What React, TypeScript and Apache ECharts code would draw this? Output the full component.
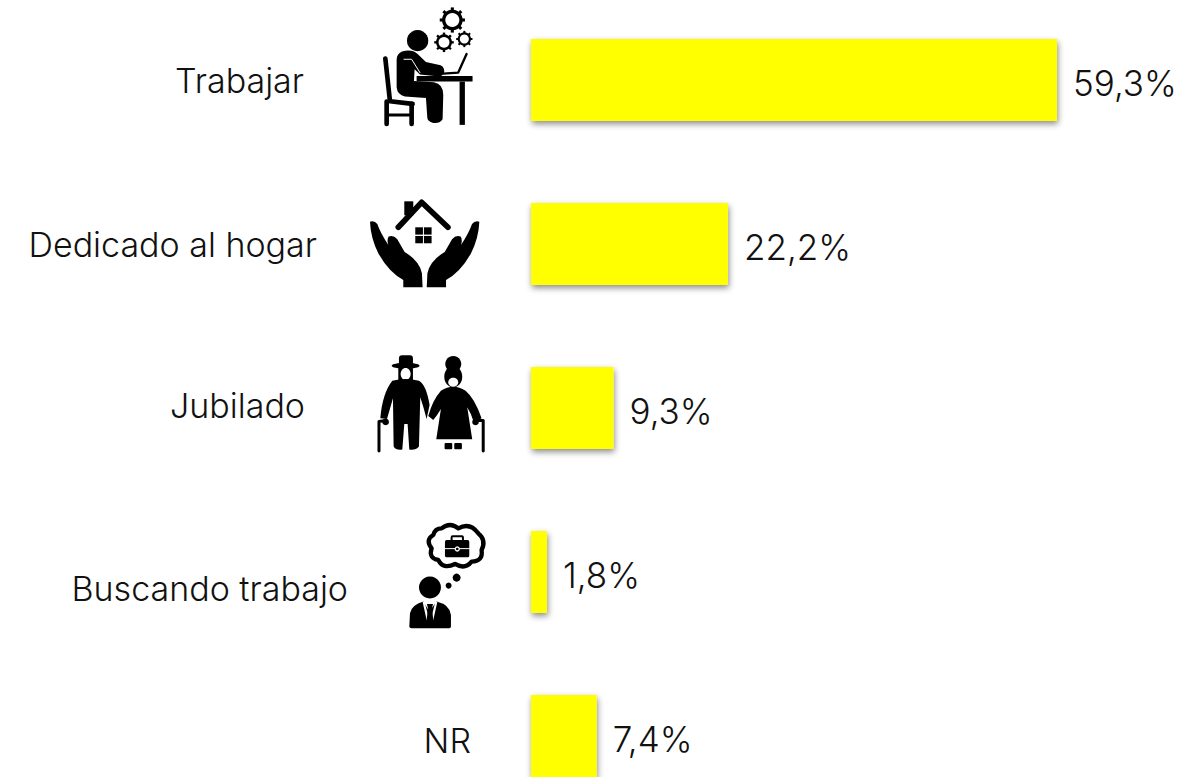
import React, { useEffect, useRef } from "react";
import * as echarts from "echarts";

const categories = ["Trabajar", "Dedicado al hogar", "Jubilado", "Buscando trabajo", "NR"];
const values = [59.3, 22.2, 9.3, 1.8, 7.4];
const valueLabels = ["59,3%", "22,2%", "9,3%", "1,8%", "7,4%"];

// per-category label nudges: [gap to the axis, vertical shift]
const labelGap = [227, 214, 226, 183, 60];
const labelShift = [0, 0, -3, 16, 4];

const FONT = "Inter";
const INK = "#111111";
const BLACK = "#000000";

const reg = (name: string, d: string) =>
  echarts.graphic.registerShape(name, echarts.graphic.extendPath(d, {}) as any);

reg("workBody", "M96 155 Q125 146 143 162 L168 186 L212 196 Q226 203 222 220 Q214 232 200 229 L150 224 L134 208 L132 243 L192 247 Q220 252 220 285 L218 358 Q208 372 190 369 Q172 365 172 352 L168 294 L105 290 Q82 285 80 262 L80 180 Q80 162 96 155 Z");
reg("handHouse", "M30 95 Q43 90 52 102 Q62 130 85 165 Q80 150 86 140 Q100 134 112 148 L134 186 Q178 212 186 250 L188 292 L130 292 L130 270 Q88 248 56 192 Q32 145 30 95 Z");
reg("oldMan", "M82 92 Q122 82 162 92 Q184 104 194 165 L185 207 Q176 172 166 142 L162 290 Q152 302 133 299 L128 222 L118 222 L112 299 Q93 302 86 290 L84 145 Q74 180 66 207 L46 205 Q52 130 82 92 Z");
reg("oldWoman", "M228 122 Q265 98 302 122 Q330 145 350 205 L327 218 Q320 192 307 172 L322 268 L214 268 L228 177 Q216 197 205 210 L190 198 Q203 150 228 122 Z");
reg("cloud", "M125 25 Q150 5 175 25 Q210 5 235 40 Q260 60 245 90 Q250 125 215 125 Q195 150 165 132 Q130 150 115 120 Q85 115 95 85 Q75 60 100 45 Q105 25 125 25 Z");
reg("suit", "M28 320 L30 280 Q35 255 70 245 L88 275 L110 245 Q150 255 153 285 L153 320 Q153 325 148 325 L35 325 Q28 325 28 320 Z");

const fill = { fill: BLACK };
const line = (points: number[][], w: number, color = BLACK) => ({
  type: "polyline",
  shape: { points },
  style: { fill: "none", stroke: color, lineWidth: w, lineCap: "round", lineJoin: "round" },
});
const circle = (cx: number, cy: number, r: number, f = BLACK) => ({ type: "circle", shape: { cx, cy, r }, style: { fill: f } });
const ellipse = (cx: number, cy: number, rx: number, ry: number, f = BLACK) => ({ type: "ellipse", shape: { cx, cy, rx, ry }, style: { fill: f } });
const rect = (x: number, y: number, width: number, height: number, r = 0, f = BLACK) => ({
  type: "rect",
  shape: { x, y, width, height, r },
  style: { fill: f },
});
const gear = (x: number, y: number, r: number) => ({
  type: "group",
  x,
  y,
  children: [
    { type: "ring", shape: { cx: 0, cy: 0, r, r0: r * 0.68 }, style: fill },
    ...[0, 1, 2, 3, 4, 5, 6, 7].map((i) => ({
      type: "rect",
      rotation: (i * Math.PI) / 4,
      shape: { x: -r * 0.15, y: -r * 1.22, width: r * 0.3, height: r * 0.4 },
      style: fill,
    })),
  ],
});
const icon = (x: number, y: number, children: any[]) => ({ type: "group", x, y, scaleX: 1 / 3, scaleY: 1 / 3, children });

const icons = [
  icon(370, 0, [
    gear(247, 60, 31),
    gear(222, 127, 24),
    gear(283, 117, 20),
    circle(143, 122, 32),
    { type: "workBody", style: fill },
    line([[102, 178], [125, 178], [150, 218]], 3, "#ffffff"),
    line([[46, 176], [60, 304], [128, 312]], 14),
    line([[50, 305], [50, 372]], 14),
    line([[125, 312], [125, 372]], 14),
    line([[52, 345], [125, 345]], 9),
    rect(140, 228, 168, 17, 2),
    rect(269, 245, 16, 130),
    line([[220, 221], [265, 218], [290, 162]], 7),
  ]),
  icon(360, 190, [
    rect(133, 34, 27, 42),
    line([[115, 112], [185, 37], [264, 112]], 17),
    rect(166, 112, 23, 22),
    rect(192, 112, 23, 22),
    rect(166, 138, 23, 22),
    rect(192, 138, 23, 22),
    { type: "handHouse", style: fill },
    { type: "handHouse", x: 388, scaleX: -1, style: fill },
  ]),
  icon(365, 350, [
    ellipse(122, 47, 42, 9),
    rect(102, 16, 42, 34, 9),
    rect(100, 50, 44, 46, 8),
    ellipse(122, 72, 15, 18, "#ffffff"),
    { type: "oldMan", style: fill },
    line([[42, 303], [42, 215], [62, 212]], 9),
    circle(62, 216, 10),
    circle(265, 42, 24),
    ellipse(265, 80, 27, 32),
    ellipse(265, 97, 15, 14, "#ffffff"),
    { type: "oldWoman", style: fill },
    rect(239, 279, 23, 19, 3),
    rect(268, 279, 23, 19, 3),
    line([[355, 303], [355, 212], [332, 212]], 9),
    circle(332, 216, 10),
  ]),
  icon(400, 520, [
    { type: "cloud", style: { fill: "none", stroke: BLACK, lineWidth: 13, lineJoin: "round" } },
    rect(135, 60, 73, 52, 5),
    line([[135, 86], [208, 86]], 3, "#ffffff"),
    circle(172, 87, 8, "#ffffff"),
    circle(172, 87, 4),
    { type: "rect", shape: { x: 155, y: 49, width: 34, height: 14, r: 3 }, style: { fill: "none", stroke: BLACK, lineWidth: 6 } },
    circle(170, 173, 12),
    circle(146, 197, 9),
    circle(90, 203, 33),
    { type: "suit", style: fill },
    { type: "polygon", shape: { points: [[68, 246], [74, 246], [88, 300], [80, 300]] }, style: { fill: "#ffffff" } },
    { type: "polygon", shape: { points: [[106, 246], [112, 246], [100, 300], [92, 300]] }, style: { fill: "#ffffff" } },
    { type: "polygon", shape: { points: [[81, 252], [99, 252], [96, 266], [100, 300], [90, 310], [80, 300], [84, 266]] }, style: fill },
  ]),
];

export default function App() {
  const ref = useRef<HTMLDivElement>(null);
  useEffect(() => {
    document.body.style.margin = "0";
    const chart = echarts.init(ref.current!, null, { renderer: "svg" });
    const rich: any = {};
    categories.forEach((_, i) => {
      const s = labelShift[i];
      rich["c" + i] = {
        fontFamily: FONT,
        fontWeight: 300,
        fontSize: 34,
        color: INK,
        padding: [s > 0 ? s * 2 : 0, labelGap[i], s < 0 ? -s * 2 : 0, 0],
      };
    });
    chart.setOption({
      animation: false,
      backgroundColor: "#ffffff",
      grid: { left: 531, top: -2, width: 65 * 8.87, height: 820, outerBoundsMode: "none", containLabel: false },
      xAxis: { type: "value", min: 0, max: 65, show: false },
      yAxis: {
        type: "category",
        inverse: true,
        data: categories,
        axisLine: { show: false },
        axisTick: { show: false },
        splitLine: { show: false },
        axisLabel: {
          margin: 0,
          formatter: (v: string) => `{c${categories.indexOf(v)}|${v}}`,
          rich,
        },
      },
      series: [
        {
          type: "bar",
          data: values,
          barWidth: 82,
          itemStyle: {
            color: "#ffff00",
            shadowColor: "rgba(0,0,0,0.45)",
            shadowBlur: 6,
            shadowOffsetX: 1,
            shadowOffsetY: 3,
          },
          label: {
            show: true,
            position: "right",
            distance: 16,
            offset: [0, 3],
            fontFamily: FONT,
            fontWeight: 300,
            fontSize: 35,
            color: INK,
            formatter: (p: any) => valueLabels[p.dataIndex],
          },
        },
      ],
      graphic: icons,
    });
    return () => chart.dispose();
  }, []);
  return <div ref={ref} style={{ width: 1199, height: 777 }} />;
}
